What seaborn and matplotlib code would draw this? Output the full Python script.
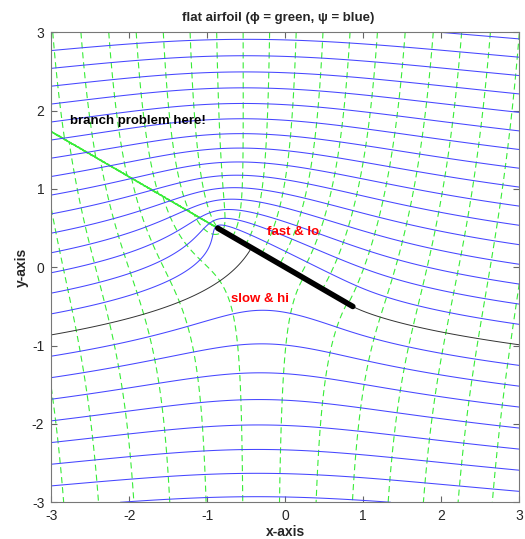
import numpy as np
import matplotlib
matplotlib.use('Agg')
import matplotlib.pyplot as plt
import seaborn as sns

# flow about a flat plate (Joukowski), Kutta condition at trailing edge
U = 1.0            # free stream speed
alpha_deg = 30.0   # angle of attack (degrees)
chord = 2.0        # plate length

x_range = [-3.0, 3.0]
y_range = [-3.0, 3.0]

# contour levels
phi_step = 0.4
phi_lim = [-6.0, 6.0]
psi_step = 0.25
psi_lim = [-4.0, 5.0]

notes = ['branch problem here!', 'fast & lo', 'slow & hi']
note_x = [-2.76, -0.24, -0.69]
note_y = [1.87, 0.45, -0.41]
note_colors = ['black', 'red', 'red']

sns.set_style('ticks')
plt.rcParams['font.family'] = ['Liberation Sans', 'DejaVu Sans']
plt.rcParams['axes.unicode_minus'] = False

alpha = np.deg2rad(alpha_deg)
a = chord / 4
gamma = 4 * np.pi * U * a * np.sin(alpha)

xs = np.linspace(x_range[0], x_range[1], 800)
ys = np.linspace(y_range[0], y_range[1], 800)
X, Y = np.meshgrid(xs, ys)
Z = X + 1j * Y

# rotate into plate frame and invert z = zeta + a^2/zeta
Zp = Z * np.exp(1j * alpha)
s = np.sqrt(Zp - 2 * a) * np.sqrt(Zp + 2 * a)
zeta = (Zp + s) / 2
W = U * (zeta * np.exp(-1j * alpha) + a**2 * np.exp(1j * alpha) / zeta) \
    + 1j * gamma / (2 * np.pi) * np.log(zeta / a)
phi = W.real
psi = W.imag

phi_levels = np.arange(phi_lim[0], phi_lim[1] + phi_step / 2, phi_step)
psi_levels = np.arange(psi_lim[0], psi_lim[1] + psi_step / 2, psi_step)
psi_levels = psi_levels[np.abs(psi_levels) > 1e-9]

fig = plt.figure(figsize=(5.25, 5.39), dpi=100)
ax = fig.add_axes([0.0977, 0.0681, 0.8914, 0.8719])

dash = (0, (5.5, 3.5))
ax.contour(X, Y, phi, levels=phi_levels, colors='#38ec38',
           linewidths=0.8, linestyles=[dash], negative_linestyles=[dash])
ax.contour(X, Y, psi, levels=psi_levels, colors='#4646ff', linewidths=0.75,
           linestyles='solid', negative_linestyles='solid')
ax.contour(X, Y, psi, levels=[0.0], colors='#333333', linewidths=0.7,
           linestyles='solid')

# the plate itself
plate_x = [-chord / 2 * np.cos(alpha), chord / 2 * np.cos(alpha)]
plate_y = [chord / 2 * np.sin(alpha), -chord / 2 * np.sin(alpha)]
sns.lineplot(x=plate_x, y=plate_y, color='black', linewidth=4,
             sort=False, ax=ax)

for t, tx, ty, c in zip(notes, note_x, note_y, note_colors):
    ax.text(tx, ty, t, color=c, fontsize=9.5, fontweight='bold',
            ha='left', va='center')

ax.set_xlim(x_range)
ax.set_ylim(y_range)
ax.set_xticks(np.arange(-3, 4, 1))
ax.set_yticks(np.arange(-3, 4, 1))
ax.tick_params(direction='in', top=True, right=True, length=4,
               color='#666666', labelsize=10, pad=5)
for sp in ax.spines.values():
    sp.set_color('#777777')

ax.set_title('flat airfoil (\u03d5 = green, \u03c8 = blue)', fontsize=9.5,
             fontweight='bold', pad=8, x=0.485)
ax.set_xlabel('x-axis', fontsize=10, fontweight='bold', labelpad=1.5)
ax.set_ylabel('y-axis', fontsize=10, fontweight='bold', labelpad=2)

fig.savefig('out.png', dpi=100)
plt.close(fig)
